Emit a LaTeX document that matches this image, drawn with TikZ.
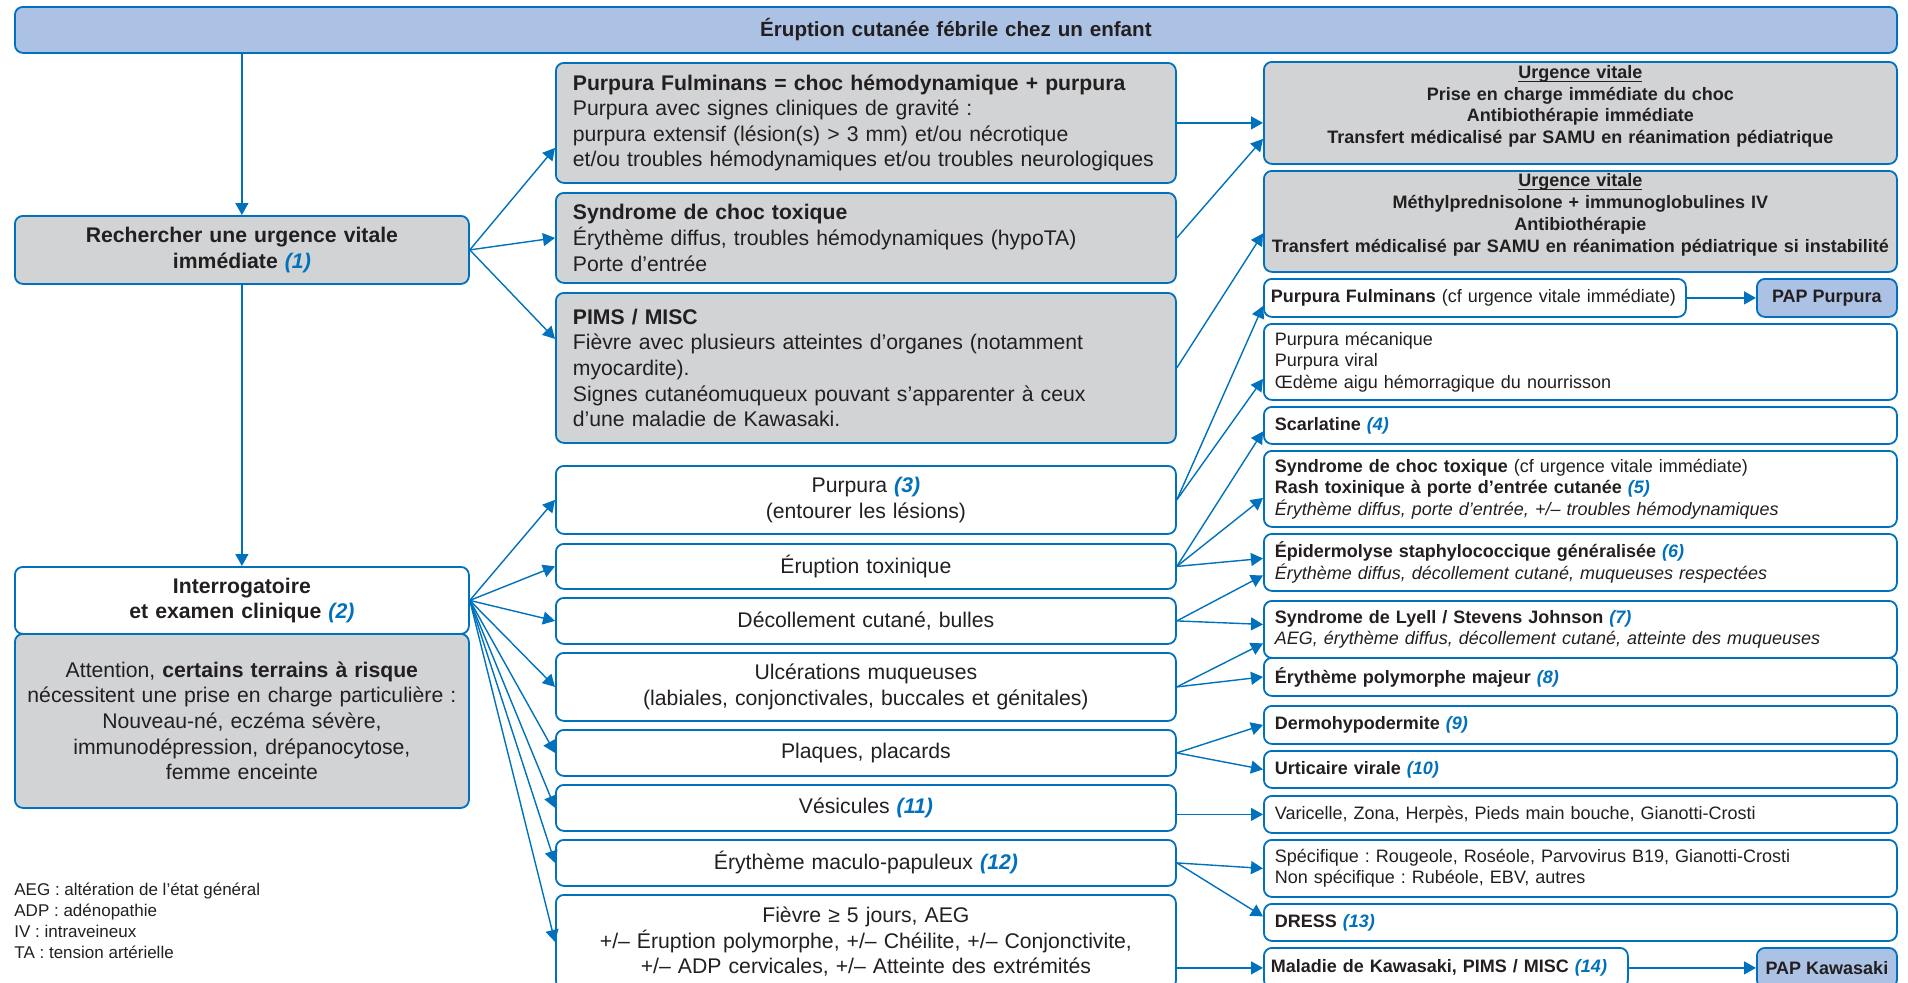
\documentclass[tikz,border=0pt]{standalone}
\usepackage{fontspec}
\setmainfont{Liberation Sans}
\usetikzlibrary{arrows.meta}

\definecolor{bleu}{HTML}{0071BC}
\definecolor{gris}{HTML}{D1D3D4}
\definecolor{bleuclair}{HTML}{ACC2E4}
\definecolor{texte}{HTML}{231F20}
\newcommand{\renvoi}[1]{\textcolor{bleu}{\bfseries\itshape(#1)}}
\newcommand{\souligne}[1]{\underline{\smash{#1}}}

\tikzset{
	boite/.style={draw=bleu, line width=0.9pt, rounded corners=4pt, inner ysep=0pt, text=texte, anchor=north west},
	gauche/.style={boite, text width=227pt, inner xsep=0pt, align=center, font=\fontsize{10.6}{12.8}\selectfont},
	milieu/.style={boite, text width=293pt, inner xsep=8.5pt, font=\fontsize{10.6}{12.8}\selectfont},
	droite/.style={boite, fill=white, text width=305.5pt, inner xsep=5.5pt, align=left, font=\fontsize{9}{10.8}\selectfont},
	urgence/.style={droite, fill=gris, text width=312pt, inner xsep=2.25pt, align=center, font=\fontsize{9}{10.9}\selectfont\bfseries},
	pap/.style={boite, fill=bleuclair, minimum width=70pt, inner xsep=0pt, font=\fontsize{9}{10.8}\selectfont\bfseries},
	fleche/.style={draw=bleu, line width=0.7pt, -{Triangle[length=6pt,width=6.5pt]}},
}

\begin{document}
\frenchspacing
\begin{tikzpicture}[x=0.5pt, y=-0.5pt]
		\useasboundingbox (0,0) rectangle (1908,982);
		%draw title
		\node[boite, fill=bleuclair, text width=941pt, inner xsep=0pt, minimum height=23pt, align=center, font=\fontsize{10.3}{12}\selectfont\bfseries] (titre) at (14,6) {Éruption cutanée fébrile chez un enfant};
		
		%draw left column
		\node[gauche, fill=gris, minimum height=34pt, font=\fontsize{10.6}{12.8}\selectfont\bfseries] (rech) at (14,215) {Rechercher une urgence vitale\\immédiate \renvoi{1}};
		\node[gauche, fill=white, minimum height=33.5pt, font=\fontsize{10.6}{12.8}\selectfont\bfseries] (inter) at (14,566) {Interrogatoire\\et examen clinique \renvoi{2}};
		\node[gauche, fill=gris, minimum height=87pt] (attn) at (14,633) {Attention, \textbf{certains terrains à risque}\\nécessitent une prise en charge particulière :\\Nouveau-né, eczéma sévère,\\immunodépression, drépanocytose,\\femme enceinte};
		\node[anchor=west, align=left, inner sep=0pt, text=texte, font=\fontsize{8.5}{10.5}\selectfont] (legende) at (14,921) {AEG : altération de l’état général\\ADP : adénopathie\\IV : intraveineux\\TA : tension artérielle};
		
		%draw middle column
		\node[milieu, fill=gris, align=left, minimum height=60pt] (pf) at (555,62) {\textbf{Purpura Fulminans = choc hémodynamique + purpura}\\Purpura avec signes cliniques de gravité :\\purpura extensif (lésion(s) > 3 mm) et/ou nécrotique\\et/ou troubles hémodynamiques et/ou troubles neurologiques};
		\node[milieu, fill=gris, align=left, minimum height=45pt] (sct) at (555,192) {\textbf{Syndrome de choc toxique}\\Érythème diffus, troubles hémodynamiques (hypoTA)\\Porte d’entrée};
		\node[milieu, fill=gris, align=left, minimum height=75pt] (pims) at (555,292) {\textbf{PIMS / MISC}\\Fièvre avec plusieurs atteintes d’organes (notamment\\myocardite).\\Signes cutanéomuqueux pouvant s’apparenter à ceux\\d’une maladie de Kawasaki.};
		\node[milieu, fill=white, align=center, minimum height=34pt] (purp) at (555,465) {Purpura \renvoi{3}\\(entourer les lésions)};
		\node[milieu, fill=white, align=center, minimum height=22.5pt] (erup) at (555,543) {Éruption toxinique};
		\node[milieu, fill=white, align=center, minimum height=23pt] (decol) at (555,597) {Décollement cutané, bulles};
		\node[milieu, fill=white, align=center, minimum height=34pt] (ulc) at (555,652) {Ulcérations muqueuses\\(labiales, conjonctivales, buccales et génitales)};
		\node[milieu, fill=white, align=center, minimum height=23pt] (plaq) at (555,729) {Plaques, placards};
		\node[milieu, fill=white, align=center, minimum height=23pt] (vesi) at (555,784) {Vésicules \renvoi{11}};
		\node[milieu, fill=white, align=center, minimum height=23pt] (ery) at (555,839) {Érythème maculo-papuleux \renvoi{12}};
		\node[milieu, fill=white, align=center, minimum height=47pt] (fiev) at (555,894) {Fièvre ≥ 5 jours, AEG\\+/– Éruption polymorphe, +/– Chéilite, +/– Conjonctivite,\\+/– ADP cervicales, +/– Atteinte des extrémités};
		
		%draw right column
		\node[urgence, minimum height=51pt] (uv1) at (1263,61) {\souligne{Urgence vitale}\\Prise en charge immédiate du choc\\Antibiothérapie immédiate\\Transfert médicalisé par SAMU en réanimation pédiatrique};
		\node[urgence, minimum height=50.5pt] (uv2) at (1263,170) {\souligne{Urgence vitale}\\Méthylprednisolone + immunoglobulines IV\\Antibiothérapie\\Transfert médicalisé par SAMU en réanimation pédiatrique si instabilité};
		\node[droite, text width=204pt, inner xsep=3.5pt, minimum height=19pt] (pfcf) at (1263,278) {\textbf{Purpura Fulminans} (cf urgence vitale immédiate)};
		\node[pap, minimum height=19pt] (pappur) at (1756,278) {PAP Purpura};
		\node[droite, minimum height=38pt] (meca) at (1263,323) {Purpura mécanique\\Purpura viral\\Œdème aigu hémorragique du nourrisson};
		\node[droite, minimum height=18.5pt] (scar) at (1263,406) {\textbf{Scarlatine} \renvoi{4}};
		\node[droite, minimum height=38pt] (sctcf) at (1263,450) {\textbf{Syndrome de choc toxique} (cf urgence vitale immédiate)\\\textbf{Rash toxinique à porte d’entrée cutanée} \renvoi{5}\\\textit{Érythème diffus, porte d’entrée, +/– troubles hémodynamiques}};
		\node[droite, minimum height=28.5pt] (epid) at (1263,533) {\textbf{Épidermolyse staphylococcique généralisée} \renvoi{6}\\\textit{Érythème diffus, décollement cutané, muqueuses respectées}};
		\node[droite, minimum height=28.5pt] (lyell) at (1263,600) {\textbf{Syndrome de Lyell / Stevens Johnson} \renvoi{7}\\\textit{AEG, érythème diffus, décollement cutané, atteinte des muqueuses}};
		\node[droite, minimum height=19pt] (epm) at (1263,657) {\textbf{Érythème polymorphe majeur} \renvoi{8}};
		\node[droite, minimum height=19pt] (dermo) at (1263,705) {\textbf{Dermohypodermite} \renvoi{9}};
		\node[droite, minimum height=18.5pt] (urti) at (1263,750) {\textbf{Urticaire virale} \renvoi{10}};
		\node[droite, minimum height=18.5pt] (vari) at (1263,795) {Varicelle, Zona, Herpès, Pieds main bouche, Gianotti-Crosti};
		\node[droite, minimum height=28.5pt] (spec) at (1263,839) {Spécifique : Rougeole, Roséole, Parvovirus B19, Gianotti-Crosti\\Non spécifique : Rubéole, EBV, autres};
		\node[droite, minimum height=18.5pt] (dress) at (1263,903) {\textbf{DRESS} \renvoi{13}};
		\node[droite, text width=175pt, inner xsep=3.5pt, minimum height=20pt] (kawa) at (1263,947) {\textbf{Maladie de Kawasaki, PIMS / MISC} \renvoi{14}};
		\node[pap, minimum height=20pt] (papkaw) at (1756,947) {PAP Kawasaki};
		
		%draw arrows left column
		\draw[fleche] (rech.north |- titre.south) -- (rech.north);
		\draw[fleche] (rech.south) -- (inter.north);
		\draw[fleche] (rech.east) -- ([yshift=-12.5pt]pf.west);
		\draw[fleche] (rech.east) -- (sct.west);
		\draw[fleche] (rech.east) -- ([yshift=14.5pt]pims.west);
		\foreach \n in {purp,erup,decol,ulc,plaq,vesi,ery,fiev}{
			\draw[fleche] (inter.east) -- (\n.west);
		}
		
		%draw arrows right column
		\draw[fleche] (pf.east) -- (pf.east -| uv1.west);
		\draw[fleche] (sct.east) -- ([yshift=-13pt]uv1.west);
		\draw[fleche] (pims.east) -- ([yshift=-6pt]uv2.west);
		\draw[fleche] (purp.east) -- ([yshift=-4pt]pfcf.west);
		\draw[fleche] (purp.east) -- ([yshift=-8.5pt]meca.west);
		\draw[fleche] (erup.east) -- ([yshift=-3pt]scar.west);
		\draw[fleche] (erup.east) -- ([yshift=-4.5pt]sctcf.west);
		\draw[fleche] (erup.east) -- ([yshift=2pt]epid.west);
		\draw[fleche] (decol.east) -- ([yshift=-6.5pt]epid.west);
		\draw[fleche] (decol.east) -- ([yshift=2.5pt]lyell.west);
		\draw[fleche] (ulc.east) -- ([yshift=-7pt]lyell.west);
		\draw[fleche] (ulc.east) -- (epm.west);
		\draw[fleche] (plaq.east) -- (dermo.west);
		\draw[fleche] (plaq.east) -- (urti.west);
		\draw[fleche] (vesi.east |- vari.west) -- (vari.west);
		\draw[fleche] (ery.east) -- (spec.west);
		\draw[fleche] (ery.east) -- ([yshift=3pt]dress.west);
		\draw[fleche] (fiev.east |- kawa.west) -- (kawa.west);
		\draw[fleche] (pfcf.east) -- (pappur.west);
		\draw[fleche] (kawa.east) -- (papkaw.west);
		
\end{tikzpicture}
\end{document}
